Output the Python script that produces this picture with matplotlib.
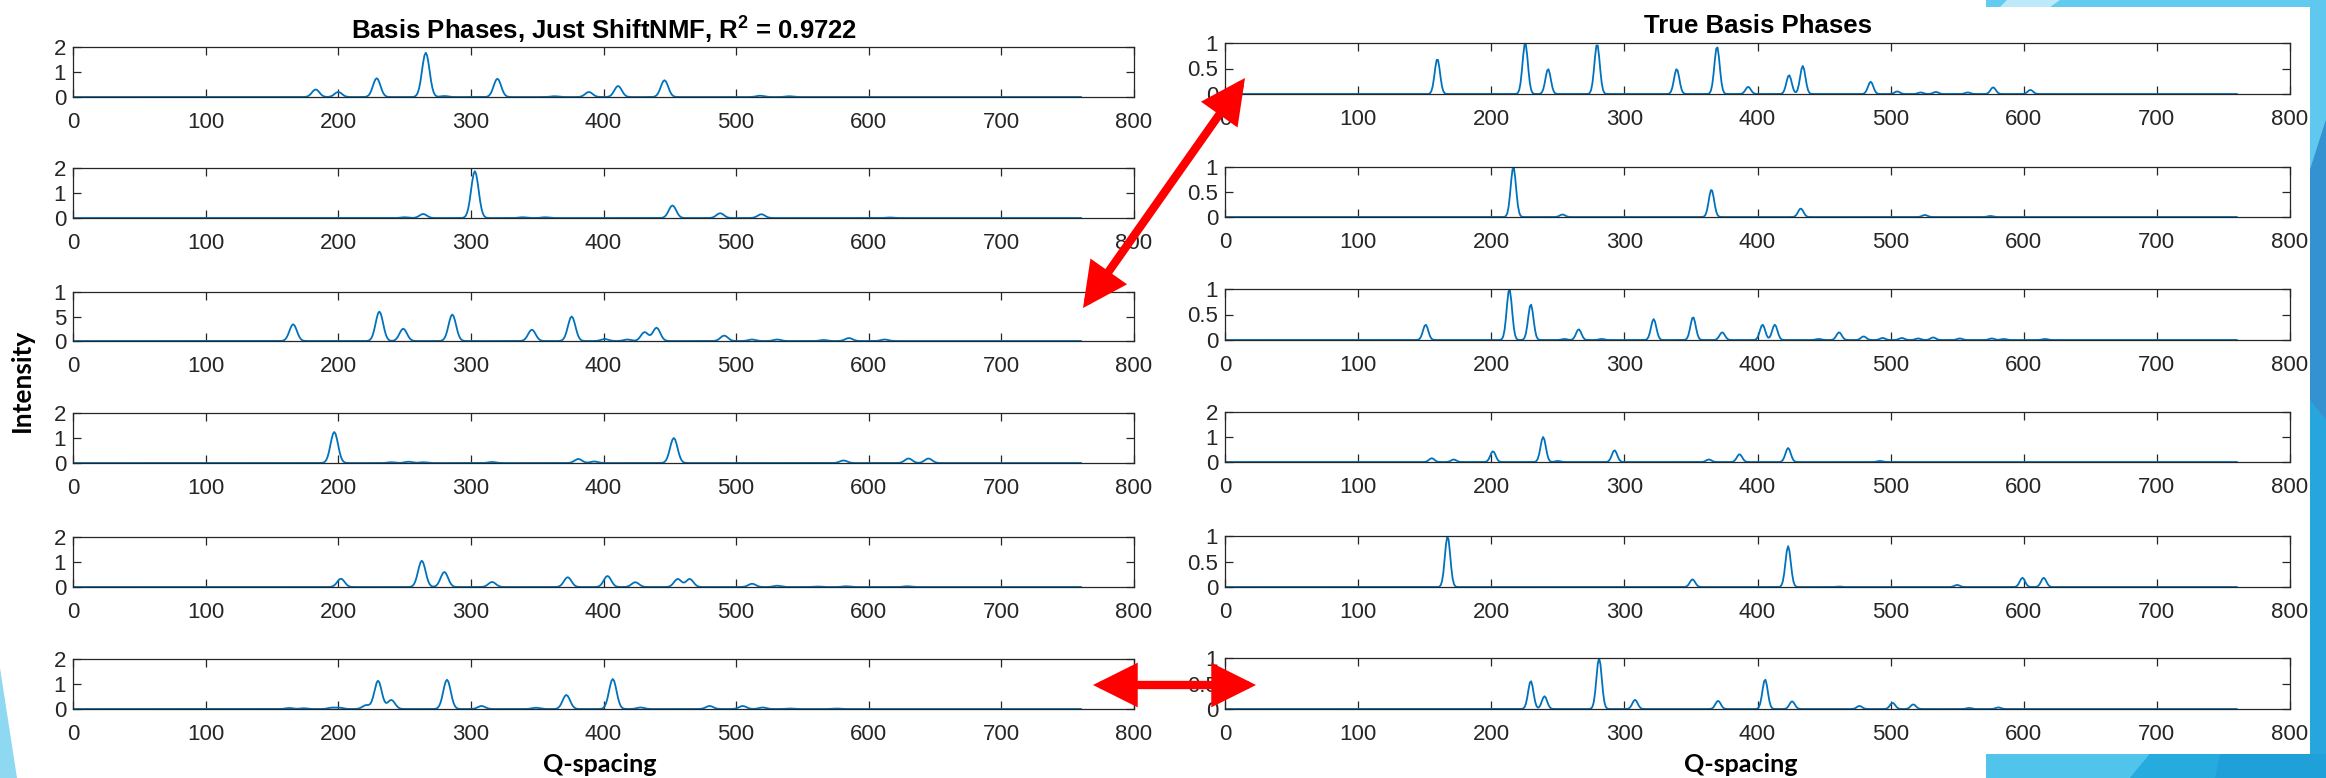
import numpy as np
import matplotlib
matplotlib.use("Agg")
import matplotlib.pyplot as plt
from matplotlib.patches import Polygon, FancyArrowPatch

plt.rcParams['font.family'] = 'Liberation Sans'
plt.rcParams['mathtext.fontset'] = 'custom'
plt.rcParams['mathtext.rm'] = 'Liberation Sans'
plt.rcParams['mathtext.bf'] = 'Liberation Sans:bold'

# Q-spacing grid of the basis phases
q = np.arange(1, 761)

# peak centres / heights (left: ShiftNMF result, right: true phases)
left1_pos = [183, 200, 229, 266, 280, 320, 363, 389, 411, 446, 518, 540]
left1_amp = [0.3, 0.2, 0.75, 1.77, 0.04, 0.73, 0.03, 0.2, 0.44, 0.67, 0.05, 0.03]
left2_pos = [250, 264, 303, 339, 356, 452, 488, 519, 616]
left2_amp = [0.03, 0.16, 1.87, 0.03, 0.03, 0.5, 0.19, 0.15, 0.02]
left3_pos = [166, 231, 249, 286, 346, 376, 401, 418, 431, 440, 491, 512, 531, 566, 585, 612]
left3_amp = [0.34, 0.6, 0.25, 0.54, 0.23, 0.5, 0.04, 0.03, 0.18, 0.27, 0.11, 0.03, 0.03, 0.02, 0.06, 0.03]
left4_pos = [197, 240, 253, 264, 316, 381, 393, 453, 581, 630, 645]
left4_amp = [1.24, 0.03, 0.05, 0.03, 0.04, 0.16, 0.06, 1.0, 0.1, 0.18, 0.18]
left5_pos = [202, 263, 280, 316, 373, 403, 424, 456, 465, 512, 531, 561, 583, 629]
left5_amp = [0.33, 1.05, 0.6, 0.2, 0.39, 0.44, 0.19, 0.32, 0.32, 0.13, 0.05, 0.02, 0.03, 0.03]
left6_pos = [163, 174, 195, 201, 221, 230, 240, 282, 308, 349, 372, 407, 428, 480, 505, 520, 540, 575]
left6_amp = [0.04, 0.03, 0.05, 0.05, 0.15, 1.13, 0.36, 1.17, 0.12, 0.05, 0.56, 1.2, 0.06, 0.12, 0.12, 0.06, 0.02, 0.02]

right1_pos = [159.5, 225.5, 242.7, 279.5, 339.3, 369.6, 393, 423.7, 434, 485, 505, 522.6, 534, 558, 577, 605]
right1_amp = [0.69, 1.0, 0.49, 0.98, 0.49, 0.93, 0.14, 0.37, 0.55, 0.24, 0.05, 0.03, 0.04, 0.03, 0.13, 0.08]
right2_pos = [216.6, 253.5, 365.4, 432.5, 525.7, 575]
right2_amp = [1.0, 0.05, 0.55, 0.17, 0.04, 0.02]
right3_pos = [150.7, 213.6, 229.7, 255, 265.7, 283, 322, 351.6, 373.5, 403.8, 413, 446, 461.3,
              479.7, 494, 508.4, 520.7, 532, 552, 576, 585, 616]
right3_amp = [0.3, 1.0, 0.7, 0.02, 0.21, 0.02, 0.41, 0.45, 0.15, 0.3, 0.3, 0.02, 0.15,
              0.07, 0.04, 0.04, 0.03, 0.05, 0.03, 0.03, 0.02, 0.02]
right4_pos = [155.3, 171.8, 201.3, 239, 250, 292.6, 363.5, 386.5, 423, 492]
right4_amp = [0.15, 0.1, 0.43, 1.0, 0.04, 0.47, 0.1, 0.31, 0.56, 0.04]
right5_pos = [167.2, 351.2, 423, 461, 550, 599, 615]
right5_amp = [1.0, 0.15, 0.8, 0.01, 0.04, 0.18, 0.18]
right6_pos = [229.7, 240, 281, 308, 370.4, 405.7, 426, 476.6, 501.5, 517, 559, 581]
right6_amp = [0.55, 0.25, 1.0, 0.18, 0.16, 0.58, 0.15, 0.06, 0.12, 0.09, 0.02, 0.03]

left_ymax = [2, 2, 1, 2, 2, 2]
right_ymax = [1, 1, 1, 2, 1, 1]

left_title = r'Basis Phases, Just ShiftNMF, $\mathbf{R^2}$ = 0.9722'
right_title = 'True Basis Phases'

left_panels = [(left1_pos, left1_amp), (left2_pos, left2_amp), (left3_pos, left3_amp),
               (left4_pos, left4_amp), (left5_pos, left5_amp), (left6_pos, left6_amp)]
right_panels = [(right1_pos, right1_amp), (right2_pos, right2_amp), (right3_pos, right3_amp),
                (right4_pos, right4_amp), (right5_pos, right5_amp), (right6_pos, right6_amp)]


def spectrum(pos, amp, width):
    y = np.zeros_like(q, dtype=float)
    for p, a in zip(pos, amp):
        y += a * np.exp(-0.5 * ((q - p) / width) ** 2)
    return y


W, H = 2326, 778
fig = plt.figure(figsize=(W / 100, H / 100), dpi=100)
fig.patch.set_facecolor('white')


def fbox(x0, y0, x1, y1):
    return [x0 / W, 1 - y1 / H, (x1 - x0) / W, (y1 - y0) / H]


def fpt(x, y):
    return (x / W, 1 - y / H)


# slide decorations (blue corner shapes)
deco = [
    ([(1986, 0), (2326, 0), (2326, 7), (1986, 7)], '#63cbef'),
    ([(2007, 0), (2060, 0), (2050, 7), (2000, 7)], '#bde9f8'),
    ([(2310, 0), (2326, 0), (2326, 778), (2310, 778)], '#27a5dd'),
    ([(2310, 0), (2326, 0), (2326, 120), (2310, 170)], '#5ec8ee'),
    ([(2310, 170), (2326, 120), (2326, 420), (2310, 400)], '#3592d0'),
    ([(1986, 754), (2326, 754), (2326, 778), (1986, 778)], '#1fa0d9'),
    ([(1986, 754), (2150, 754), (2130, 778), (1986, 778)], '#50c4ea'),
    ([(2150, 754), (2220, 754), (2215, 778), (2130, 778)], '#26abdf'),
    ([(0, 668), (17, 778), (0, 778)], '#8ed8f1'),
]
for pts, col in deco:
    fig.patches.append(Polygon([fpt(x, y) for x, y in pts], closed=True,
                               transform=fig.transFigure, facecolor=col,
                               edgecolor='none', zorder=0))

left_rows = [(47, 97), (168, 218), (292, 341), (413, 463), (537, 587), (659, 709)]
right_rows = [(43, 94), (167, 217), (289, 340), (412, 462), (536, 587), (658, 709)]
columns = [(73, 1134, left_rows, left_panels, left_ymax, 2.8),
           (1225, 2290, right_rows, right_panels, right_ymax, 2.0)]

axes = {}
for ci, (x0, x1, rows, panels, ymaxes, sig) in enumerate(columns):
    for ri, ((y0, y1), (pos, amp), ymax) in enumerate(zip(rows, panels, ymaxes)):
        ax = fig.add_axes(fbox(x0, y0, x1, y1))
        ax.plot(q, spectrum(pos, amp, sig), color='#0072bd', lw=1.3)
        ax.set_xlim(0, 800)
        ax.set_ylim(0, ymax)
        ax.set_xticks(range(0, 801, 100))
        if ymax == 2:
            ax.set_yticks([0, 1, 2])
            ax.set_yticklabels(['0', '1', '2'])
        else:
            ax.set_yticks([0, 0.5, 1])
            if ci == 0:
                ax.set_yticklabels(['0', '5', '1'])
            else:
                ax.set_yticklabels(['0', '0.5', '1'])
        ax.tick_params(direction='in', top=True, right=True, length=6, width=0.9,
                       color='#262626', labelcolor='#262626', labelsize=16)
        ax.tick_params(axis='x', pad=11)
        ax.tick_params(axis='y', pad=5)
        for s in ax.spines.values():
            s.set_color('#262626')
            s.set_linewidth(0.9)
        ax.set_facecolor('white')
        axes[(ci, ri)] = ax

axes[(0, 0)].set_title(left_title, fontsize=18.5, fontweight='bold', pad=5)
axes[(1, 0)].set_title(right_title, fontsize=18.5, fontweight='bold', pad=7)

fig.text(22 / W, 1 - 380 / H, 'Intensity', rotation=90, fontsize=19, fontweight='bold',
         family='Lato', ha='center', va='center')
fig.text(600 / W, 1 - 765 / H, 'Q-spacing', fontsize=18, fontweight='bold',
         family='Lato', ha='center', va='center')
fig.text(1741 / W, 1 - 765 / H, 'Q-spacing', fontsize=18, fontweight='bold',
         family='Lato', ha='center', va='center')

# red annotation arrows
for a, b in [((1083, 308), (1245, 78)), ((1093, 685), (1256, 685))]:
    arr = FancyArrowPatch(fpt(*a), fpt(*b), transform=fig.transFigure,
                          arrowstyle='<|-|>,head_length=1.5,head_width=0.75',
                          mutation_scale=15, color='#ff0000', lw=6,
                          shrinkA=0, shrinkB=0, joinstyle='miter', zorder=10)
    fig.patches.append(arr)

fig.savefig('out.png', dpi=100, facecolor='white')
